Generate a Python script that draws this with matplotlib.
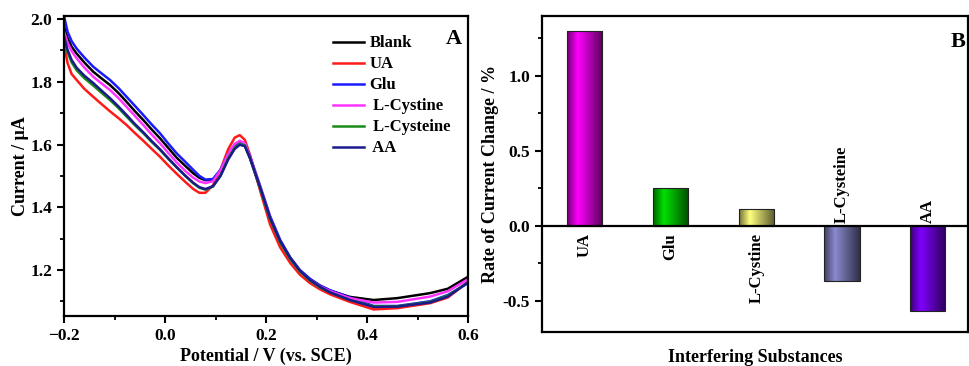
import numpy as np
import matplotlib
matplotlib.use('Agg')
import matplotlib.pyplot as plt
from matplotlib.ticker import MultipleLocator

plt.rcParams['font.family'] = ['Liberation Serif', 'DejaVu Serif']
plt.rcParams['font.weight'] = 'bold'
plt.rcParams['mathtext.default'] = 'regular'

# ---- panel A: DPV curves ----
potential = [-0.200, -0.193, -0.185, -0.175, -0.160, -0.142, -0.125, -0.109, -0.092, -0.076,
             -0.060, -0.043, -0.027, -0.010, 0.006, 0.023, 0.040, 0.056, 0.068, 0.080,
             0.095, 0.110, 0.125, 0.138, 0.148, 0.158, 0.168, 0.188, 0.208, 0.228,
             0.248, 0.267, 0.287, 0.307, 0.327, 0.366, 0.413, 0.460, 0.525, 0.560, 0.600]

blank = [1.975, 1.940, 1.912, 1.890, 1.862, 1.832, 1.810, 1.790, 1.764, 1.736,
         1.707, 1.678, 1.649, 1.620, 1.590, 1.558, 1.532, 1.508, 1.494, 1.486,
         1.488, 1.518, 1.565, 1.594, 1.603, 1.597, 1.558, 1.462, 1.362, 1.288,
         1.235, 1.197, 1.170, 1.150, 1.134, 1.114, 1.104, 1.110, 1.126, 1.140, 1.178]

ua = [1.922, 1.860, 1.825, 1.806, 1.778, 1.752, 1.728, 1.706, 1.684, 1.662,
      1.637, 1.612, 1.587, 1.561, 1.534, 1.507, 1.481, 1.458, 1.446, 1.446,
      1.470, 1.520, 1.585, 1.622, 1.630, 1.615, 1.568, 1.455, 1.345, 1.272,
      1.222, 1.185, 1.158, 1.138, 1.122, 1.098, 1.074, 1.078, 1.094, 1.112, 1.162]

glu = [2.010, 1.960, 1.930, 1.906, 1.878, 1.848, 1.826, 1.806, 1.780, 1.752,
       1.724, 1.694, 1.665, 1.636, 1.604, 1.572, 1.545, 1.519, 1.500, 1.488,
       1.490, 1.520, 1.570, 1.600, 1.610, 1.603, 1.565, 1.470, 1.372, 1.296,
       1.240, 1.200, 1.172, 1.150, 1.135, 1.112, 1.085, 1.085, 1.100, 1.120, 1.158]

cystine = [1.960, 1.925, 1.898, 1.875, 1.846, 1.816, 1.794, 1.774, 1.748, 1.720,
           1.692, 1.662, 1.633, 1.604, 1.574, 1.543, 1.516, 1.494, 1.482, 1.477,
           1.483, 1.518, 1.570, 1.602, 1.612, 1.604, 1.563, 1.466, 1.366, 1.290,
           1.236, 1.196, 1.168, 1.147, 1.132, 1.110, 1.096, 1.098, 1.115, 1.132, 1.170]

cysteine = [1.940, 1.895, 1.862, 1.837, 1.812, 1.788, 1.764, 1.742, 1.716, 1.689,
            1.662, 1.636, 1.609, 1.583, 1.555, 1.527, 1.500, 1.476, 1.462, 1.456,
            1.466, 1.502, 1.556, 1.590, 1.602, 1.597, 1.558, 1.462, 1.362, 1.288,
            1.234, 1.195, 1.166, 1.144, 1.128, 1.104, 1.084, 1.084, 1.098, 1.118, 1.160]

aa = [1.945, 1.902, 1.870, 1.845, 1.820, 1.796, 1.771, 1.748, 1.721, 1.694,
      1.666, 1.639, 1.612, 1.585, 1.557, 1.528, 1.501, 1.478, 1.464, 1.458,
      1.467, 1.500, 1.552, 1.586, 1.599, 1.595, 1.558, 1.465, 1.366, 1.292,
      1.238, 1.198, 1.168, 1.146, 1.128, 1.104, 1.082, 1.083, 1.096, 1.115, 1.160]

curve_labels = ['Blank', 'UA', 'Glu', ' L-Cystine', ' L-Cysteine', ' AA']
curve_colors = ['black', '#ff1a1a', '#1a1aff', '#ff33ff', '#1a8a1a', '#1a1a8c']

# ---- panel B: rate of current change ----
substances = ['UA', 'Glu', 'L-Cystine', 'L-Cysteine', 'AA']
rate = [1.30, 0.25, 0.115, -0.37, -0.565]
bar_colors = ['#ff00ff', '#00e000', '#ffff80', '#8a8ad0', '#8000ff']

fig = plt.figure(figsize=(9.7, 3.66), dpi=100)
ax1 = fig.add_axes([0.066, 0.1366, 0.4165, 0.8197])
ax2 = fig.add_axes([0.5588, 0.0929, 0.4392, 0.8634])

for ys, lab, col in zip([blank, ua, glu, cystine, cysteine, aa], curve_labels, curve_colors):
    ax1.plot(potential, ys, color=col, lw=1.8, label=lab)

ax1.set_xlim(-0.2, 0.6)
ax1.set_ylim(1.053, 2.01)
ax1.xaxis.set_major_locator(MultipleLocator(0.2))
ax1.xaxis.set_minor_locator(MultipleLocator(0.1))
ax1.yaxis.set_major_locator(MultipleLocator(0.2))
ax1.yaxis.set_minor_locator(MultipleLocator(0.1))
ax1.set_xlabel('Potential / V (vs. SCE)', fontsize=13, fontweight='bold', labelpad=3)
ax1.set_ylabel('Current / μA', fontsize=13, fontweight='bold', labelpad=1)
ax1.legend(loc='upper left', bbox_to_anchor=(0.665, 0.935), frameon=False, fontsize=12,
           handlelength=1.85, handletextpad=0.35, labelspacing=0.3, borderaxespad=0,
           borderpad=0)
ax1.text(0.985, 0.955, 'A', transform=ax1.transAxes, fontsize=16, fontweight='bold',
         ha='right', va='top')

for ax in (ax1, ax2):
    for s in ax.spines.values():
        s.set_linewidth(1.6)
    ax.tick_params(which='major', direction='out', length=5, width=1.5, labelsize=12.5)
    ax.tick_params(which='minor', direction='out', length=3, width=1.3)
    for t in ax.get_xticklabels() + ax.get_yticklabels():
        t.set_fontweight('bold')

# bars with a shaded (cylinder-like) look
pos = np.arange(len(substances))
bars = ax2.bar(pos, rate, width=0.41, color='none', edgecolor='#222222', linewidth=0.8, zorder=3)
shade = np.interp(np.linspace(0, 1, 64), [0, 0.3, 1], [0.45, 1.0, 0.35])
for b, col in zip(bars, bar_colors):
    rgb = np.array(matplotlib.colors.to_rgb(col))
    img = (shade[:, None] * rgb[None, :])[None, :, :]
    x0, y0 = b.get_x(), b.get_y()
    im = ax2.imshow(img, extent=(x0, x0 + b.get_width(), y0, y0 + b.get_height()),
                    aspect='auto', zorder=2, interpolation='bilinear')
    im.set_clip_path(b)

ax2.axhline(0, color='black', lw=1.6, zorder=4)
ax2.set_xlim(-0.5, 4.47)
ax2.set_ylim(-0.707, 1.4)
ax2.set_xticks([])
ax2.yaxis.set_minor_locator(MultipleLocator(0.25))
ax2.set_yticks([0.0, 0.5, 1.0, -0.5])
ax2.set_yticklabels(['0.0', '0.5', '1.0', '-0.5'], fontweight='bold')
ax2.set_ylabel('Rate of Current Change / %', fontsize=13, fontweight='bold', labelpad=3)
ax2.set_xlabel('Interfering Substances', fontsize=13, fontweight='bold', labelpad=12)
ax2.text(0.995, 0.95, 'B', transform=ax2.transAxes, fontsize=16, fontweight='bold',
         ha='right', va='top')

for p, v, name in zip(pos, rate, substances):
    if v >= 0:
        ax2.annotate(name, (p, 0), xytext=(0, -5), textcoords='offset points', rotation=90,
                     ha='center', va='top', fontsize=12, fontweight='bold')
    else:
        ax2.annotate(name, (p, 0), xytext=(0, 2), textcoords='offset points', rotation=90,
                     ha='center', va='bottom', fontsize=12, fontweight='bold')

fig.savefig('out.png', dpi=100)
